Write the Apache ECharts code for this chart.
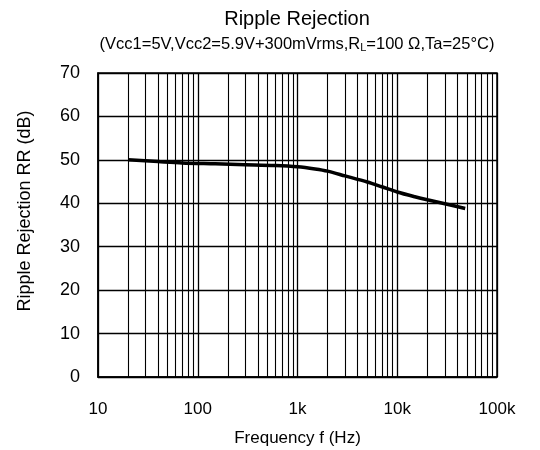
<!DOCTYPE html>
<html>
<head>
<meta charset="utf-8">
<script src="https://cdn.jsdelivr.net/npm/echarts@6/dist/echarts.min.js"></script>
<style>
  html, body { margin: 0; padding: 0; background: #fff; }
  #main { width: 540px; height: 450px; }
</style>
</head>
<body>
<div id="main"></div>
<script>
(function () {
    "use strict";

    // measured curve
    var freq = [20, 40, 70, 150, 300, 600, 1000, 1500, 2000, 3000, 5000, 7000, 10000, 15000, 20000, 30000, 48000];
    var rr = [50.0, 49.6, 49.3, 49.1, 48.9, 48.7, 48.4, 47.9, 47.4, 46.3, 44.9, 43.8, 42.6, 41.5, 40.8, 39.9, 38.8];

    // minor vertical grid lines (2..9 of each decade)
    var minorFreqs = [20, 30, 40, 50, 60, 70, 80, 90,
                      200, 300, 400, 500, 600, 700, 800, 900,
                      2000, 3000, 4000, 5000, 6000, 7000, 8000, 9000,
                      20000, 30000, 40000, 50000, 60000, 70000, 80000, 90000];

    var xTickLabels = {10: '10', 100: '100', 1000: '1k', 10000: '10k', 100000: '100k'};

    var font = '"Liberation Sans", Arial, sans-serif';

    var dom = document.getElementById("main");
    var myChart = echarts.init(dom);

    var option = {
        animation: false,
        backgroundColor: '#fff',
        textStyle: {fontFamily: font, color: '#000'},
        title: {
            text: 'Ripple Rejection',
            subtext: '(Vcc1=5V,Vcc2=5.9V+300mVrms,R{sub|L}=100 Ω,Ta=25°C)',
            left: 292,
            textAlign: 'center',
            top: 4,
            itemGap: 6,
            textStyle: {fontFamily: font, fontSize: 20, fontWeight: 'normal', color: '#000'},
            subtextStyle: {
                fontFamily: font, fontSize: 16.5, color: '#000',
                rich: {sub: {fontFamily: font, fontSize: 11, color: '#000', verticalAlign: 'bottom', padding: [7, 0, 0, 0]}}
            }
        },
        grid: {
            left: 98,
            right: 43,
            top: 73,
            bottom: 73,
            outerBoundsMode: 'none',
            show: true,
            borderColor: '#000',
            borderWidth: 1.5
        },
        xAxis: {
            type: 'log',
            logBase: 10,
            min: 10,
            max: 100000,
            name: 'Frequency f (Hz)',
            nameLocation: 'middle',
            nameGap: 53,
            nameTextStyle: {fontSize: 17, color: '#000'},
            axisLine: {show: true, lineStyle: {color: '#000', width: 1.5}},
            axisTick: {show: false},
            axisLabel: {
                fontSize: 17, color: '#000', margin: 24,
                formatter: function (v) { return xTickLabels[v] !== undefined ? xTickLabels[v] : ''; }
            },
            splitLine: {show: true, lineStyle: {color: '#000', width: 1.3}}
        },
        yAxis: {
            type: 'value',
            min: 0,
            max: 70,
            interval: 10,
            name: 'Ripple Rejection RR (dB)',
            nameLocation: 'middle',
            nameGap: 64,
            nameTextStyle: {fontSize: 18, color: '#000', padding: [0, 0, 0, 28]},
            axisLine: {show: true, lineStyle: {color: '#000', width: 1.5}},
            axisTick: {show: false},
            axisLabel: {fontSize: 18, color: '#000', margin: 18},
            splitLine: {show: true, lineStyle: {color: '#000', width: 1.3}}
        },
        series: [
            {
                name: 'grid',
                type: 'line',
                data: [],
                silent: true,
                markLine: {
                    silent: true,
                    symbol: 'none',
                    label: {show: false},
                    lineStyle: {color: '#000', width: 1.1, type: 'solid'},
                    data: minorFreqs.map(function (f) { return {xAxis: f}; })
                }
            },
            {
                name: 'RR',
                type: 'line',
                data: freq.map(function (f, i) { return [f, rr[i]]; }),
                smooth: 0.3,
                showSymbol: false,
                lineStyle: {color: '#000', width: 3.5},
                z: 5
            }
        ]
    };

    if (option && typeof option === "object") {
        myChart.setOption(option, true);
    }
})();
</script>
</body>
</html>
